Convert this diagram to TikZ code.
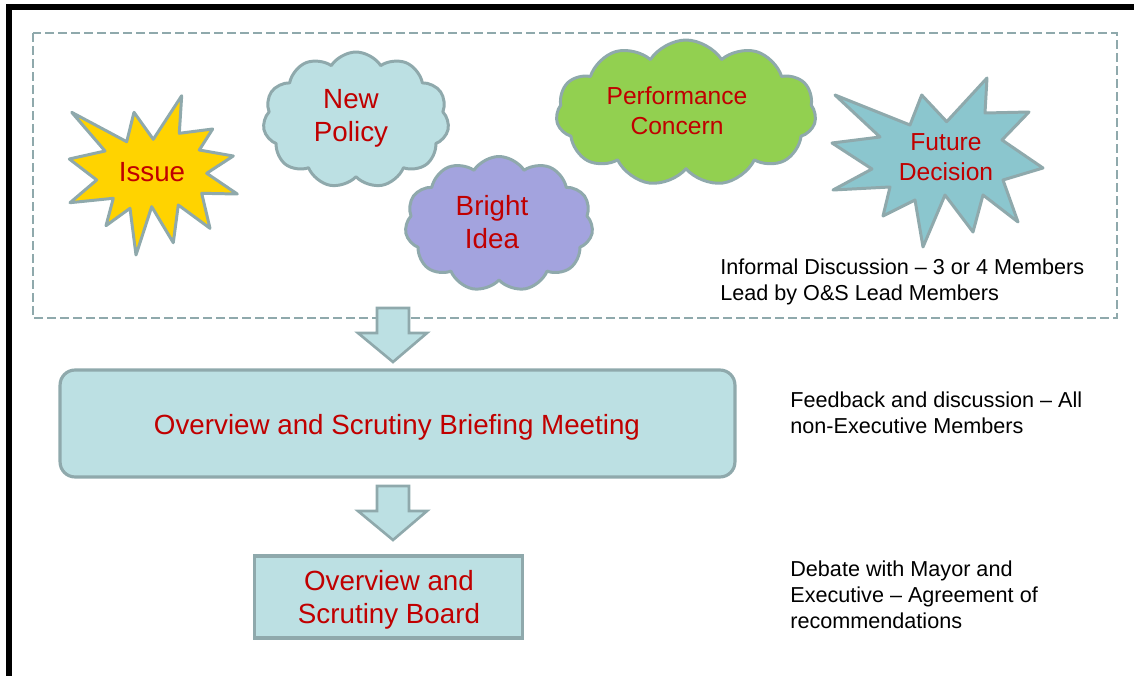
\documentclass[tikz,border=0pt]{standalone}
\usepackage{fontspec}
\setmainfont{Liberation Sans}
\usepackage{xcolor}
\usetikzlibrary{positioning,shapes.symbols,calc}

\definecolor{edgegrey}{HTML}{8FA9AC}
\definecolor{textred}{HTML}{C00000}
\definecolor{staryellow}{HTML}{FFD300}
\definecolor{starteal}{HTML}{8BC6CE}
\definecolor{paleblue}{HTML}{BCE0E3}
\definecolor{lilac}{HTML}{A3A3DE}
\definecolor{leafgreen}{HTML}{92D050}

\tikzset{
  redtext/.style={text=textred, align=center, font=\fontsize{15.8}{18.8}\selectfont},
  smallred/.style={text=textred, align=center, font=\fontsize{14}{17}\selectfont},
  note/.style={anchor=west, align=left, inner sep=0pt, font=\fontsize{12.3}{14.7}\selectfont},
  outline/.style={draw=edgegrey, line width=1.7pt, line join=round},
  puff/.style={outline, cloud, cloud puffs=11, cloud puff arc=115, cloud ignores aspect, inner sep=0pt},
  blockarrow/.style={draw=edgegrey, line width=1.5pt, fill=paleblue, line join=miter},
  boxed/.style={draw=edgegrey, line width=1.8pt, fill=paleblue},
}

\begin{document}
\begin{tikzpicture}[x=0.02cm, y=-0.02cm]
	\useasboundingbox (0,0) rectangle (1134,676);
	% frame
	\draw[line width=0.12cm] (9,676) -- (9,7) -- (1134,7);
	\draw[edgegrey, line width=1.7pt, dash pattern=on 5pt off 2.4pt] (33,33) rectangle (1117,318);

	% stars
	\draw[outline, fill=staryellow] (71.7,112.3) -- (126.7,141.7) -- (134,112.3) -- (153.3,139.3) -- (181.7,95.7) -- (179.3,133.3) -- (212.7,129) -- (199.3,150) -- (233.3,156) -- (206.7,173.3) -- (237.3,194) -- (201.7,193.3) -- (210,228.3) -- (178.3,205) -- (173.3,242.7) -- (151.7,206.7) -- (136,255) -- (130,208.3) -- (106,225.7) -- (113.3,198.3) -- (70,202.7) -- (96.7,180) -- (69.3,159) -- (105,151) -- cycle;
	\node[redtext] (issue) at (152,172) {Issue};
	\draw[outline, fill=starteal] (835,95) -- (910,125) -- (921.7,95) -- (946.7,121.7) -- (987,78) -- (985,113) -- (1029,112) -- (1002,140) -- (1043,168) -- (1003,180) -- (1018,222) -- (983,195) -- (973,232) -- (945,195) -- (923,247) -- (915,200) -- (883,216) -- (890,187) -- (833,190) -- (872,169) -- (832,143) -- (880,137) -- cycle;
	\node[smallred] (future) at (946,157) {Future\\Decision};

	% clouds
	\node[puff, fill=paleblue, minimum width=3.72cm, minimum height=2.72cm] (policy) at (356,120) {};
	\node[redtext] (policytext) at (351,118) {New\\Policy};
	\node[puff, fill=lilac, minimum width=3.76cm, minimum height=2.7cm] (idea) at (499,224) {};
	\node[redtext] (ideatext) at (492,222) {Bright\\Idea};
	\node[puff, fill=leafgreen, minimum width=5.2cm, minimum height=2.92cm] (concern) at (686,113) {};
	\node[smallred] (concerntext) at (677,111) {Performance\\Concern};

	\node[note] (informal) at (720,282) {Informal Discussion – 3 or 4 Members\\Lead by O\&S Lead Members};

	% arrows and boxes
	\draw[blockarrow] (377,308) -- (409,308) -- (409,333) -- (427,333) -- (393,362) -- (358,333) -- (377,333) -- cycle;
	\node[boxed, rounded corners=0.3cm, minimum width=13.5cm, minimum height=2.14cm] (briefing) at (397.5,423.5) {};
	\node[redtext] (briefingtext) at (397,427) {Overview and Scrutiny Briefing Meeting};
	\node[note] (feedback) at (790,413) {Feedback and discussion – All\\non-Executive Members};

	\draw[blockarrow] (377,486) -- (409,486) -- (409,511) -- (427,511) -- (393,540) -- (358,511) -- (377,511) -- cycle;
	\node[boxed, minimum width=5.36cm, minimum height=1.64cm] (board) at (388.5,597) {};
	\node[redtext] (boardtext) at (389,600) {Overview and\\Scrutiny Board};
	\node[note] (debate) at (790,595) {Debate with Mayor and\\Executive – Agreement of\\recommendations};
\end{tikzpicture}
\end{document}
